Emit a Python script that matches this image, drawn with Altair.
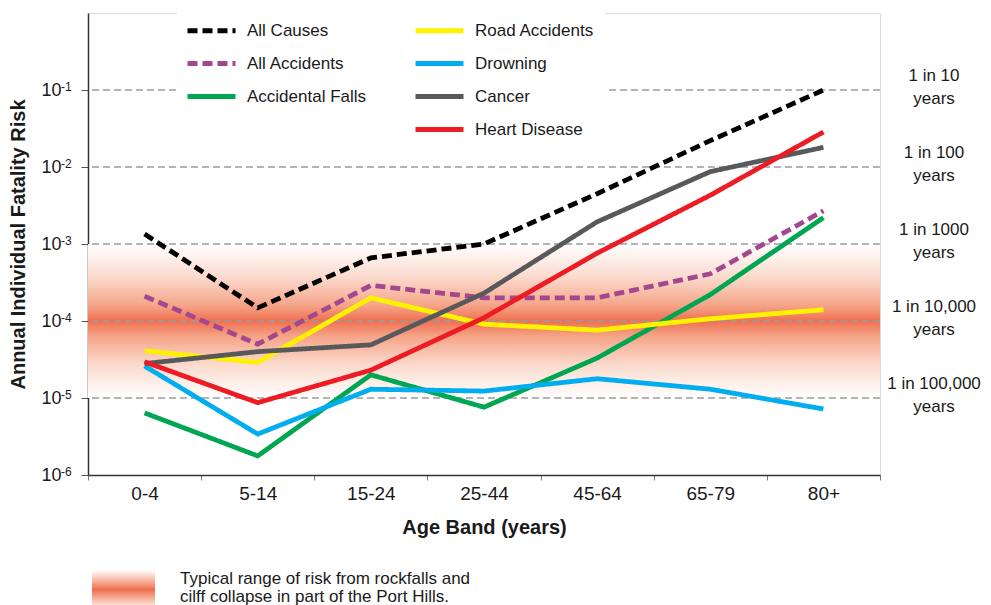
import altair as alt
import pandas as pd

FONT = "Liberation Sans"
TXT = "#1a1a1a"

# ---- data ----
ages = ["0-4", "5-14", "15-24", "25-44", "45-64", "65-79", "80+"]
all_causes = [1.35e-3, 1.48e-4, 6.6e-4, 1.0e-3, 4.5e-3, 2.2e-2, 1.0e-1]
all_accidents = [2.1e-4, 5.0e-5, 2.9e-4, 2.0e-4, 2.0e-4, 4.1e-4, 2.7e-3]
accidental_falls = [6.4e-6, 1.77e-6, 2.0e-5, 7.6e-6, 3.3e-5, 2.2e-4, 2.2e-3]
road_accidents = [4.1e-5, 2.9e-5, 2.0e-4, 9.1e-5, 7.6e-5, 1.07e-4, 1.4e-4]
drowning = [2.6e-5, 3.4e-6, 1.3e-5, 1.23e-5, 1.78e-5, 1.3e-5, 7.2e-6]
cancer = [2.8e-5, 4.0e-5, 4.9e-5, 2.3e-4, 1.94e-3, 8.7e-3, 1.8e-2]
heart_disease = [2.95e-5, 8.7e-6, 2.3e-5, 1.1e-4, 7.6e-4, 4.3e-3, 2.85e-2]

series = {
    "All Causes": all_causes,
    "All Accidents": all_accidents,
    "Accidental Falls": accidental_falls,
    "Road Accidents": road_accidents,
    "Drowning": drowning,
    "Cancer": cancer,
    "Heart Disease": heart_disease,
}
# legend order (two columns, filled column by column; " " is an empty slot)
legend_order = ["All Causes", "All Accidents", "Accidental Falls", " ",
                "Road Accidents", "Drowning", "Cancer", "Heart Disease"]
legend_colors = ["#000000", "#A3488F", "#00A651", "transparent",
                 "#FFF200", "#00AEEF", "#58595B", "#ED1C24"]
legend_dashes = [[10, 5], [10, 5], [1, 0], [1, 0], [1, 0], [1, 0], [1, 0], [1, 0]]

risk_levels = [1e-1, 1e-2, 1e-3, 1e-4, 1e-5]
risk_labels = ["1 in 10\nyears", "1 in 100\nyears", "1 in 1000\nyears",
               "1 in 10,000\nyears", "1 in 100,000\nyears"]
y_ticks = [1e-6, 1e-5, 1e-4, 1e-3, 1e-2, 1e-1]
y_exponents = ["-6", "-5", "-4", "-3", "-2", "-1"]
band_range = [1e-3, 1e-5]
note_text = ["Typical range of risk from rockfalls and\ncilff collapse in part of the Port Hills."]

# ---- frames ----
rows = []
for name, vals in series.items():
    for a, v in zip(ages, vals):
        rows.append({"series": name, "age": a, "value": v})
df = pd.DataFrame(rows)
grid_df = pd.DataFrame({"value": risk_levels[:]})
risk_df = pd.DataFrame({"value": risk_levels, "label": risk_labels})
exp_df = pd.DataFrame({"value": y_ticks, "label": y_exponents})
band_df = pd.DataFrame({"value": [band_range[0]], "value2": [band_range[1]]})
note_df = pd.DataFrame({"label": note_text})

W, H = 792, 462
yscale = alt.Scale(type="log", domain=[1e-6, 1], nice=False)
y_axis = alt.Axis(values=y_ticks, labelExpr="'10'", title="Annual Individual Fatality Risk",
                  labelFontSize=18, labelFont=FONT, labelColor=TXT, labelPadding=20,
                  titleFontSize=20, titleFont=FONT, titleFontWeight="bold",
                  titleColor=TXT, titlePadding=12, tickSize=7, tickColor="#555",
                  domainColor="#333", domainWidth=1.5, grid=False)

band_grad = alt.Gradient(
    gradient="linear", x1=0, y1=0, x2=0, y2=1,
    stops=[
        alt.GradientStop(offset=0.0, color="#ffffff"),
        alt.GradientStop(offset=0.22, color="#fbd9cc"),
        alt.GradientStop(offset=0.40, color="#f5a488"),
        alt.GradientStop(offset=0.5, color="#ef6f50"),
        alt.GradientStop(offset=0.60, color="#f5a488"),
        alt.GradientStop(offset=0.78, color="#fbd9cc"),
        alt.GradientStop(offset=1.0, color="#ffffff"),
    ],
)
swatch_grad = alt.Gradient(
    gradient="linear", x1=0, y1=0, x2=0, y2=1,
    stops=[
        alt.GradientStop(offset=0.0, color="#ffffff"),
        alt.GradientStop(offset=0.28, color="#f8b9a2"),
        alt.GradientStop(offset=0.55, color="#ef6f50"),
        alt.GradientStop(offset=0.82, color="#f8b9a2"),
        alt.GradientStop(offset=1.0, color="#fde6de"),
    ],
)

band = alt.Chart(band_df).mark_rect(color=band_grad).encode(
    x=alt.value(0), x2=alt.value("width"),
    y=alt.Y("value:Q", scale=yscale, axis=y_axis), y2="value2:Q",
)

grid = alt.Chart(grid_df).mark_rule(color="#9c9c9c", strokeDash=[7, 4], strokeWidth=1.4).encode(
    y=alt.Y("value:Q", scale=yscale, axis=y_axis)
)

leg = alt.Legend(
    orient="none", legendX=89, legendY=-3, columns=2, columnPadding=38, rowPadding=12,
    symbolType="M-3,0H3", symbolSize=256, symbolStrokeWidth=5, symbolOffset=14,
    labelOffset=25, labelFontSize=17, labelFont=FONT, labelColor=TXT, labelLimit=0,
    title=None, fillColor="white", padding=10, zindex=1,
)

lines = alt.Chart(df).mark_line(strokeWidth=4.8).encode(
    x=alt.X("age:N", sort=ages, bandPosition=0.5,
            scale=alt.Scale(type="band", paddingInner=0, paddingOuter=0),
            axis=alt.Axis(title="Age Band (years)", labelAngle=0, tickBand="extent",
                          labelFontSize=19, labelFont=FONT, labelColor=TXT, labelPadding=4,
                          titleFontSize=20, titleFont=FONT, titleFontWeight="bold",
                          titleColor=TXT, titlePadding=14, tickSize=5, tickColor="#777",
                          domainColor="#333", domainWidth=1.5, grid=False)),
    y=alt.Y("value:Q", scale=yscale, axis=y_axis),
    color=alt.Color("series:N", scale=alt.Scale(domain=legend_order, range=legend_colors), legend=leg),
    strokeDash=alt.StrokeDash("series:N", scale=alt.Scale(domain=legend_order, range=legend_dashes), legend=leg),
)

exps = alt.Chart(exp_df).mark_text(
    align="left", baseline="middle", fontSize=12, font=FONT, color=TXT, dy=-3,
).encode(
    x=alt.value(-27),
    y=alt.Y("value:Q", scale=yscale, axis=y_axis),
    text="label:N",
)

risk_text = alt.Chart(risk_df).mark_text(
    align="center", baseline="middle", fontSize=17, font=FONT, color=TXT,
    lineBreak="\n", lineHeight=23, dy=-14,
).encode(
    x=alt.value(W + 54),
    y=alt.Y("value:Q", scale=yscale, axis=y_axis),
    text="label:N",
)

swatch = alt.Chart(note_df).mark_rect(color=swatch_grad).encode(
    x=alt.value(4), x2=alt.value(67), y=alt.value(557), y2=alt.value(593)
)
note = alt.Chart(note_df).mark_text(
    align="left", baseline="middle", fontSize=17, font=FONT, color=TXT,
    lineBreak="\n", lineHeight=18,
).encode(x=alt.value(92), y=alt.value(566), text="label:N")

chart = alt.layer(band, grid, lines, exps, risk_text, swatch, note).properties(
    width=W, height=H,
    padding={"left": 0, "top": 2, "right": 0, "bottom": 0},
).configure_view(stroke=None).configure(background="white")

chart.save("out.html", embed_options={"renderer": "svg", "actions": False})
